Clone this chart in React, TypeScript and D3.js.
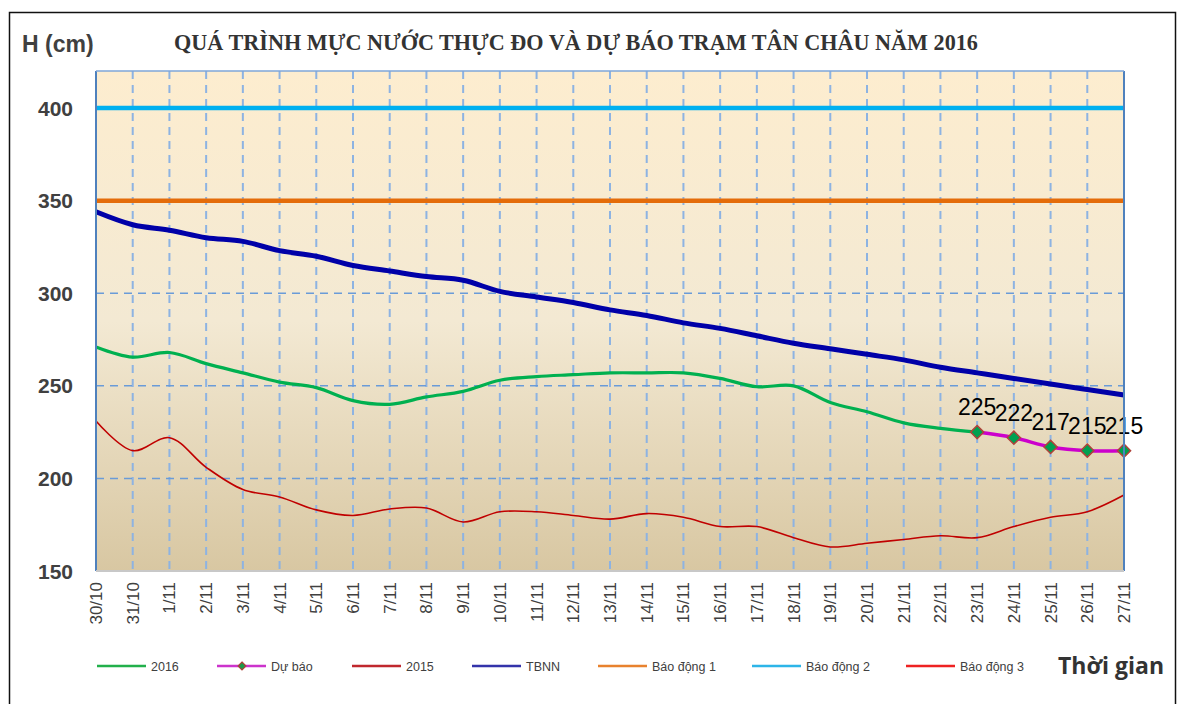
import * as d3 from "d3";

const dates = [
  "30/10", "31/10", "1/11", "2/11", "3/11", "4/11", "5/11", "6/11", "7/11", "8/11",
  "9/11", "10/11", "11/11", "12/11", "13/11", "14/11", "15/11", "16/11", "17/11", "18/11",
  "19/11", "20/11", "21/11", "22/11", "23/11", "24/11", "25/11", "26/11", "27/11",
];

const tbnn = [
  344, 337, 334, 330, 328, 323, 320, 315, 312, 309,
  307, 301, 298, 295, 291, 288, 284, 281, 277, 273,
  270, 267, 264, 260, 257, 254, 251, 248, 245,
];

const h2016 = [
  271, 265.5, 268, 262, 257, 252, 249, 242, 240, 244,
  247, 253, 255, 256, 257, 257, 257, 254, 249.5, 250,
  241, 236, 230, 227, 225,
];

const h2015 = [
  231, 215, 222, 206, 194, 190, 183, 180, 183.5, 184,
  176.5, 182, 182, 180, 178, 181, 179, 174, 174, 168,
  163, 165, 167, 169, 168, 174, 179, 182, 191,
];

const forecastDates = ["23/11", "24/11", "25/11", "26/11", "27/11"];
const forecast = [225, 222, 217, 215, 215];

const alarm1 = 350;
const alarm2 = 400;
const alarm3 = 450;

const yTicks = [150, 200, 250, 300, 350, 400];

const legendItems = [
  { label: "2016", color: "#22b04b", marker: false },
  { label: "Dự báo", color: "#cc33cc", marker: true },
  { label: "2015", color: "#c0282e", marker: false },
  { label: "TBNN", color: "#3333aa", marker: false },
  { label: "Báo động 1", color: "#e8822e", marker: false },
  { label: "Báo động 2", color: "#2db5e8", marker: false },
  { label: "Báo động 3", color: "#ee2222", marker: false },
];
const legendX = [97, 217, 352, 472, 598, 752, 906];

const W = 1183;
const H = 704;
const plot = { left: 96, right: 1124, top: 71, bottom: 571 };

export default function App() {
  const x = d3.scalePoint<string>().domain(dates).range([plot.left, plot.right]);
  const y = d3.scaleLinear().domain([150, 420]).range([plot.bottom, plot.top]);

  const line = d3
    .line<[string, number]>()
    .x((d) => x(d[0])!)
    .y((d) => y(d[1]))
    .curve(d3.curveCatmullRom.alpha(0.5));

  const pairs = (vals: number[], labels = dates) =>
    vals.map((v, i) => [labels[i], v] as [string, number]);

  const diamond = d3.symbol().type(d3.symbolDiamond2).size(110)()!;

  return (
    <svg
      width={W}
      height={H}
      style={{ position: "absolute", left: 0, top: 0, background: "#fff" }}
      fontFamily="'Liberation Sans', Arial, sans-serif"
    >
      <defs>
        <linearGradient id="bg" x1="0" y1="0" x2="0" y2="1">
          <stop offset="0" stopColor="#fdedcf" />
          <stop offset="0.5" stopColor="#f3e9d3" />
          <stop offset="1" stopColor="#d8c7a2" />
        </linearGradient>
        <clipPath id="clip">
          <rect x={plot.left} y={plot.top} width={plot.right - plot.left} height={plot.bottom - plot.top} />
        </clipPath>
      </defs>

      <rect x={9.5} y={12.5} width={1166} height={720} fill="none" stroke="#111" strokeWidth={1.5} />

      <text x={22} y={52} fontSize={23} fontWeight="bold" fill="#404040">
        H (cm)
      </text>
      <text
        x={576}
        y={50}
        textAnchor="middle"
        fontSize={22.2}
        fontWeight="bold"
        fill="#333"
        fontFamily="'Liberation Serif', 'Times New Roman', serif"
      >
        QUÁ TRÌNH MỰC NƯỚC THỰC ĐO VÀ DỰ BÁO TRẠM TÂN CHÂU NĂM 2016
      </text>

      <rect
        x={plot.left}
        y={plot.top}
        width={plot.right - plot.left}
        height={plot.bottom - plot.top}
        fill="url(#bg)"
      />

      {/* vertical grid */}
      {dates.slice(1, -1).map((d) => (
        <line
          key={d}
          x1={x(d)}
          x2={x(d)}
          y1={plot.top}
          y2={plot.bottom}
          stroke="#8db3e2"
          strokeWidth={2}
          strokeDasharray="8,6"
        />
      ))}
      {/* horizontal grid */}
      {yTicks.slice(1).map((t) => (
        <line
          key={t}
          x1={plot.left}
          x2={plot.right}
          y1={y(t)}
          y2={y(t)}
          stroke="#6a9bd8"
          strokeWidth={1.5}
          strokeDasharray="8,6"
        />
      ))}

      <g clipPath="url(#clip)">
        <line x1={plot.left} x2={plot.right} y1={y(alarm3)} y2={y(alarm3)} stroke="#ee2222" strokeWidth={4} />
      </g>
      <line x1={plot.left} x2={plot.right} y1={y(alarm2)} y2={y(alarm2)} stroke="#00b0f0" strokeWidth={4.5} />
      <line x1={plot.left} x2={plot.right} y1={y(alarm1)} y2={y(alarm1)} stroke="#e46c0a" strokeWidth={4.5} />

      <path d={line(pairs(h2015))!} fill="none" stroke="#c00000" strokeWidth={1.6} />
      <path d={line(pairs(tbnn))!} fill="none" stroke="#0000a8" strokeWidth={5} />
      <path d={line(pairs(h2016))!} fill="none" stroke="#00b050" strokeWidth={3.2} />
      <path d={line(pairs(forecast, forecastDates))!} fill="none" stroke="#cc00cc" strokeWidth={3.5} />

      {forecast.map((v, i) => (
        <g key={i} transform={`translate(${x(forecastDates[i])},${y(v)})`}>
          <path d={diamond} fill="#00a050" stroke="#b0423a" strokeWidth={1.5} />
          <text y={-17} textAnchor="middle" fontSize={23} fill="#000">
            {v}
          </text>
        </g>
      ))}

      {/* plot border */}
      <line x1={plot.left} x2={plot.left} y1={plot.top} y2={plot.bottom} stroke="#4f81bd" strokeWidth={2} />
      <line x1={plot.right} x2={plot.right} y1={plot.top} y2={plot.bottom} stroke="#4f81bd" strokeWidth={2} />
      <line x1={plot.left} x2={plot.right} y1={plot.top} y2={plot.top} stroke="#7ea6d8" strokeWidth={1.5} />
      <line x1={plot.left} x2={plot.right} y1={plot.bottom} y2={plot.bottom} stroke="#c8c8c8" strokeWidth={2} />

      {yTicks.map((t) => (
        <text
          key={t}
          x={73}
          y={y(t) + 7.5}
          textAnchor="end"
          fontSize={21}
          fontWeight="bold"
          fill="#404040"
        >
          {t}
        </text>
      ))}

      {dates.map((d) => (
        <text
          key={d}
          transform={`translate(${x(d)! + 6},582) rotate(-90)`}
          textAnchor="end"
          fontSize={17}
          fill="#404040"
          fontFamily="'Liberation Sans Narrow', 'Arial Narrow', 'Liberation Sans', sans-serif"
        >
          {d}
        </text>
      ))}

      {legendItems.map((it, i) => (
        <g key={it.label} transform={`translate(${legendX[i]},666)`}>
          <line x1={0} x2={49} y1={0} y2={0} stroke={it.color} strokeWidth={2.5} />
          {it.marker && (
            <path
              d={d3.symbol().type(d3.symbolDiamond2).size(40)()!}
              transform="translate(25,0)"
              fill="#1a9a4a"
              stroke="#b0423a"
              strokeWidth={1.2}
            />
          )}
          <text x={54} y={4.5} fontSize={12.5} fill="#404040">
            {it.label}
          </text>
        </g>
      ))}

      <text
        x={1058}
        y={674}
        fontSize={23}
        fontWeight="bold"
        fill="#333"
        fontFamily="'Open Sans', 'Noto Sans', sans-serif"
      >
        Thời gian
      </text>
    </svg>
  );
}
